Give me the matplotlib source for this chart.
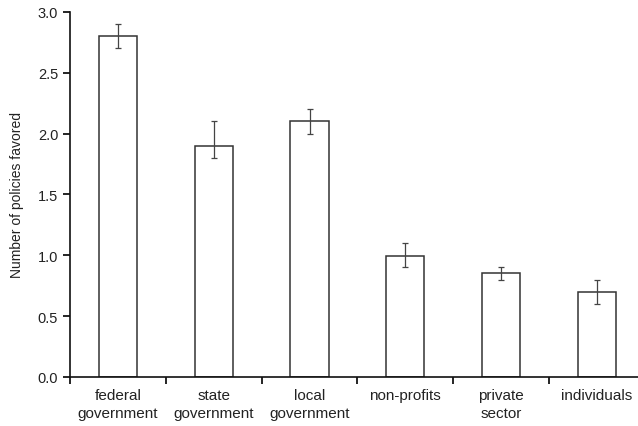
import numpy as np
import matplotlib.pyplot as plt

plt.rcParams['font.family'] = ['Liberation Sans', 'DejaVu Sans']

# categorias y valores
categorias = ["federal\ngovernment", "state\ngovernment", "local\ngovernment",
              "non-profits", "private\nsector", "individuals"]
valores = [2.8, 1.9, 2.1, 0.99, 0.85, 0.70]
err_inf = [0.1, 0.1, 0.1, 0.09, 0.05, 0.10]
err_sup = [0.1, 0.2, 0.1, 0.11, 0.05, 0.10]

fig = plt.figure(figsize=(6.38, 4.27), dpi=100)
ax = fig.add_axes([0.1097, 0.115, 0.901, 0.855])

x = np.arange(len(categorias))
ax.bar(x, valores, width=0.4, color="white", edgecolor="#333333", linewidth=1.1)
ax.errorbar(x, valores, yerr=[err_inf, err_sup], fmt="none",
            ecolor="#444444", elinewidth=0.9, capsize=2, capthick=0.9)

ax.set_xlim(-0.5, len(categorias) - 0.5)
ax.set_ylim(0, 3.0)
ax.set_yticks(np.arange(0, 3.01, 0.5))
ax.set_yticklabels([f"{v:.1f}" for v in np.arange(0, 3.01, 0.5)])

# marcas del eje x entre categorias, etiquetas en el centro
ax.set_xticks(np.arange(-0.5, len(categorias), 1.0))
ax.set_xticklabels([])
ax.set_xticks(x, minor=True)
ax.set_xticklabels(categorias, minor=True, fontsize=11, color="#222222",
                   linespacing=1.35)
ax.tick_params(axis="x", which="minor", length=0, pad=8)
ax.tick_params(axis="x", which="major", length=5, width=1.2, direction="out")
ax.tick_params(axis="y", length=5, width=1.2, labelsize=10.5, labelcolor="#222222")

for s in ["top", "right"]:
    ax.spines[s].set_visible(False)
for s in ["left", "bottom"]:
    ax.spines[s].set_linewidth(1.2)
    ax.spines[s].set_color("#111111")

ax.set_ylabel("Number of policies favored", fontsize=10, color="#222222", labelpad=10)

fig.savefig("out.png", dpi=100)
